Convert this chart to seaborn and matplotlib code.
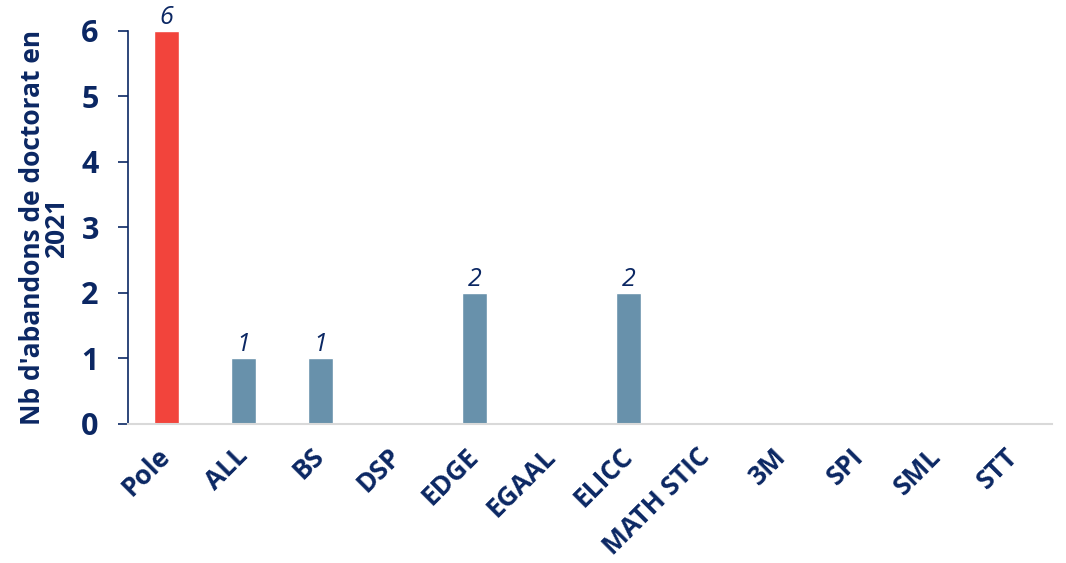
import matplotlib.pyplot as plt
import matplotlib.transforms as mtransforms
import pandas as pd
import seaborn as sns

categories = ["Pole", "ALL", "BS", "DSP", "EDGE", "EGAAL", "ELICC", "MATH STIC", "3M", "SPI", "SML", "STT"]
values = [6, 1, 1, 0, 2, 0, 2, 0, 0, 0, 0, 0]
groups = ["pole"] + ["ed"] * (len(categories) - 1)

NAVY = "#0b2763"
palette = {"pole": "#f2443c", "ed": "#6891ab"}

df = pd.DataFrame({"ed": categories, "nb": values, "group": groups})

sns.set_style("white")
plt.rcParams["font.family"] = ["Open Sans", "DejaVu Sans"]

fig = plt.figure(figsize=(10.66, 5.63), dpi=100)
ax = fig.add_axes([0.120, 0.247, 0.867, 0.698])
sns.barplot(data=df, x="ed", y="nb", hue="group", palette=palette, dodge=False,
            width=0.33, saturation=1, legend=False, ax=ax)

# annotate non-zero bars
for i, v in enumerate(values):
    if v > 0:
        ax.text(i, v + 0.02, str(v), ha="center", va="bottom", fontsize=18,
                style="italic", color=NAVY)

ax.set_xlim(-0.5, len(categories) - 0.5)
ax.set_ylim(0, 6)
ax.set_yticks(range(7))
ax.set_xlabel("")
ax.set_ylabel("Nb d'abandons de doctorat en\n2021", fontsize=19, fontweight="bold",
              color=NAVY, labelpad=8, linespacing=0.85)

for s in ["top", "right"]:
    ax.spines[s].set_visible(False)
ax.spines["left"].set_color(NAVY)
ax.spines["left"].set_linewidth(1.2)
ax.spines["bottom"].set_color("#d9d9d9")
ax.spines["bottom"].set_linewidth(1.5)

ax.tick_params(axis="y", left=True, length=7, width=1.2, color=NAVY, labelsize=22,
               labelcolor=NAVY, pad=14)
ax.tick_params(axis="x", bottom=False, labelsize=19, labelcolor=NAVY, pad=10)
for t in ax.get_yticklabels():
    t.set_fontweight("bold")
ax.set_xticks(range(len(categories)))
ax.set_xticklabels(categories, rotation=45, ha="right", rotation_mode="anchor",
                   fontweight="bold")
# nudge rotated labels so they end under the bar centre
shift = mtransforms.ScaledTranslation(-7 / 72, 0, fig.dpi_scale_trans)
for t in ax.get_xticklabels():
    t.set_transform(t.get_transform() + shift)

fig.savefig("out.png", dpi=100)
